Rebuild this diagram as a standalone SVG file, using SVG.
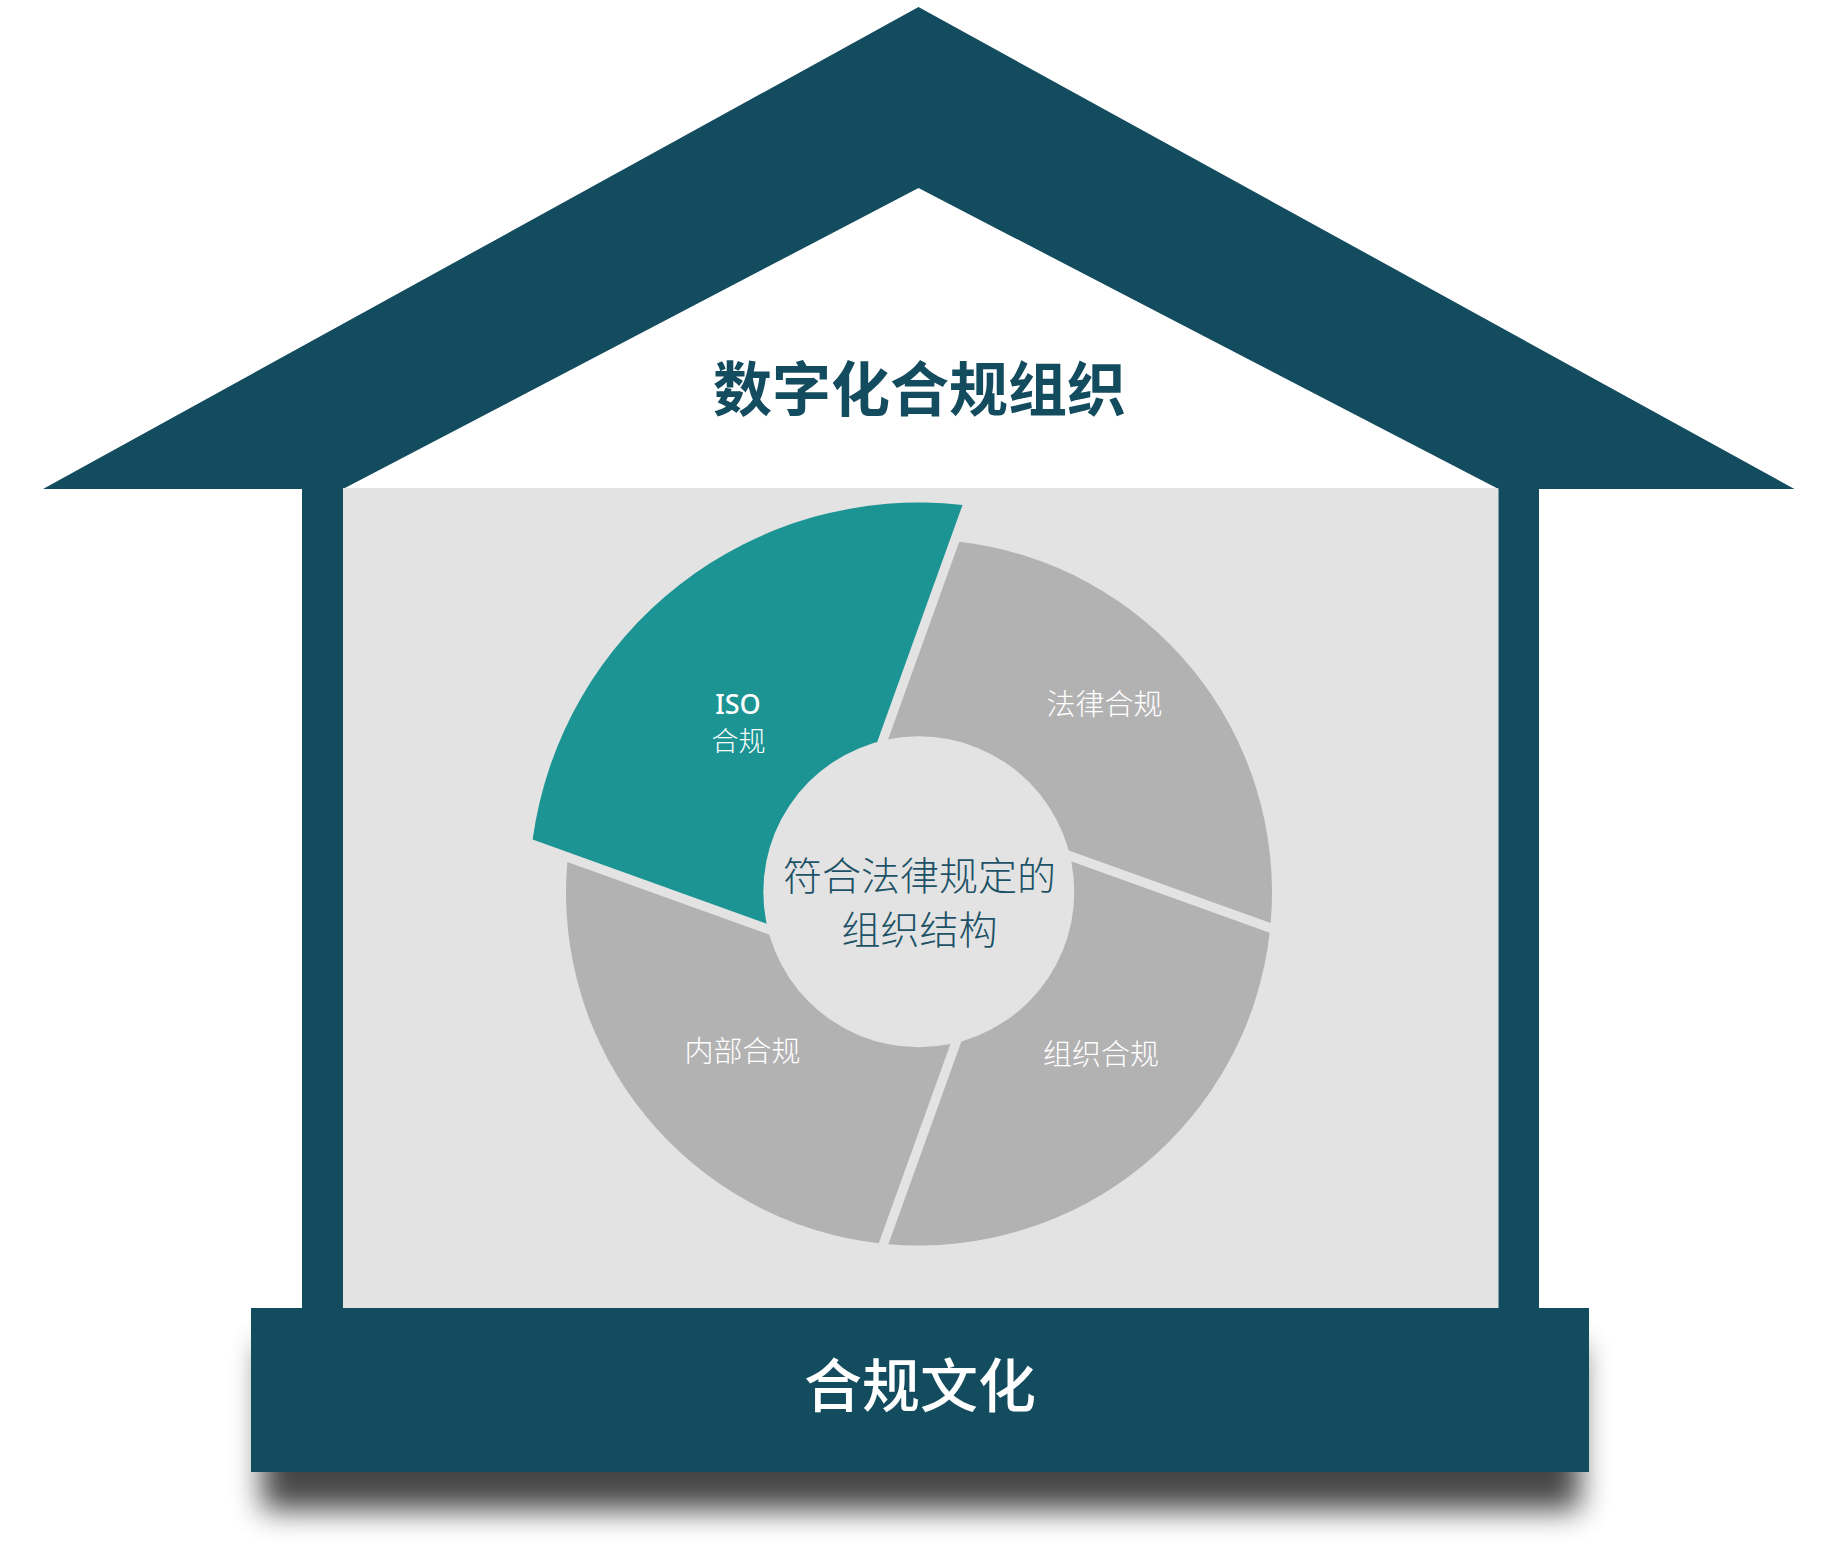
<svg xmlns="http://www.w3.org/2000/svg" width="1837" height="1546" viewBox="0 0 1837 1546">
  <style>
    .navy { fill: #144c5f; }
    .room { fill: #e3e3e3; }
    .seg { fill: #b3b2b3; }
    .seg-hi { fill: #1b9493; }
    .cjk { font-family: "Noto Sans CJK SC", "Noto Sans", sans-serif; }
    .lbl { fill: #ffffff; font-size: 29px; font-weight: 300; text-anchor: middle; }
    .ctr { fill: #1d5266; font-size: 39px; font-weight: 300; text-anchor: middle; }
  </style>
  <defs>
    <filter id="shadow" x="-10%" y="-60%" width="120%" height="220%">
      <feGaussianBlur stdDeviation="15"/>
    </filter>
  </defs>
  <rect x="0" y="0" width="1837" height="1546" fill="#ffffff"/>

  <g id="house">
    <path id="roof" class="navy" d="M43,489 L918.5,7 L1794.5,489 L1498.5,489 L918.5,188 L343,489 Z"/>
    <rect id="room" class="room" x="343" y="488" width="1155.5" height="822"/>
    <rect id="wall-left" class="navy" x="302" y="488" width="41" height="822"/>
    <rect id="wall-right" class="navy" x="1498.5" y="488" width="40.5" height="822"/>
    <text id="title" class="cjk" x="919.5" y="411" font-size="59" font-weight="700" fill="#144c5f" text-anchor="middle">数字化合规组织</text>
  </g>

  <g id="segments">
    <g id="seg-iso">
      <path class="seg-hi" transform="translate(919 892.5) rotate(19.8)" d="M-90.32,80.92 L-381.5,80.92 A390,390 0 0 1 -90.32,-379.4 Z"/>
      <text x="738" y="714" font-family="'Noto Sans', 'Noto Sans CJK SC', sans-serif" font-size="27" font-weight="500" fill="#ffffff" text-anchor="middle">ISO</text>
      <text class="cjk" x="738.5" y="751" font-size="27" font-weight="300" fill="#ffffff" text-anchor="middle">合规</text>
    </g>
    <g id="seg-law">
      <path class="seg" transform="translate(919 892.5) rotate(19.8)" d="M-80.92,-90.32 L-80.92,-343.6 A353,353 0 0 1 341.25,-90.32 Z"/>
      <text class="cjk lbl" x="1104.5" y="715">法律合规</text>
    </g>
    <g id="seg-org">
      <path class="seg" transform="translate(919 892.5) rotate(19.8)" d="M90.32,-80.92 L343.6,-80.92 A353,353 0 0 1 90.32,341.25 Z"/>
      <text class="cjk lbl" x="1101" y="1065">组织合规</text>
    </g>
    <g id="seg-internal">
      <path class="seg" transform="translate(919 892.5) rotate(19.8)" d="M80.92,90.32 L80.92,343.6 A353,353 0 0 1 -341.25,90.32 Z"/>
      <text class="cjk lbl" x="742.5" y="1062">内部合规</text>
    </g>
  </g>

  <g id="center">
    <circle class="room" cx="918.8" cy="891.8" r="155.5"/>
    <text class="cjk ctr" x="919.5" y="890">符合法律规定的</text>
    <text class="cjk ctr" x="919.5" y="944">组织结构</text>
  </g>

  <g id="base">
    <rect x="262" y="1345" width="1318" height="165" fill="#000000" opacity="0.72" filter="url(#shadow)"/>
    <rect class="navy" x="251" y="1308" width="1338" height="164"/>
    <text class="cjk" x="920" y="1407" font-size="58" font-weight="500" fill="#ffffff" text-anchor="middle">合规文化</text>
  </g>
</svg>
